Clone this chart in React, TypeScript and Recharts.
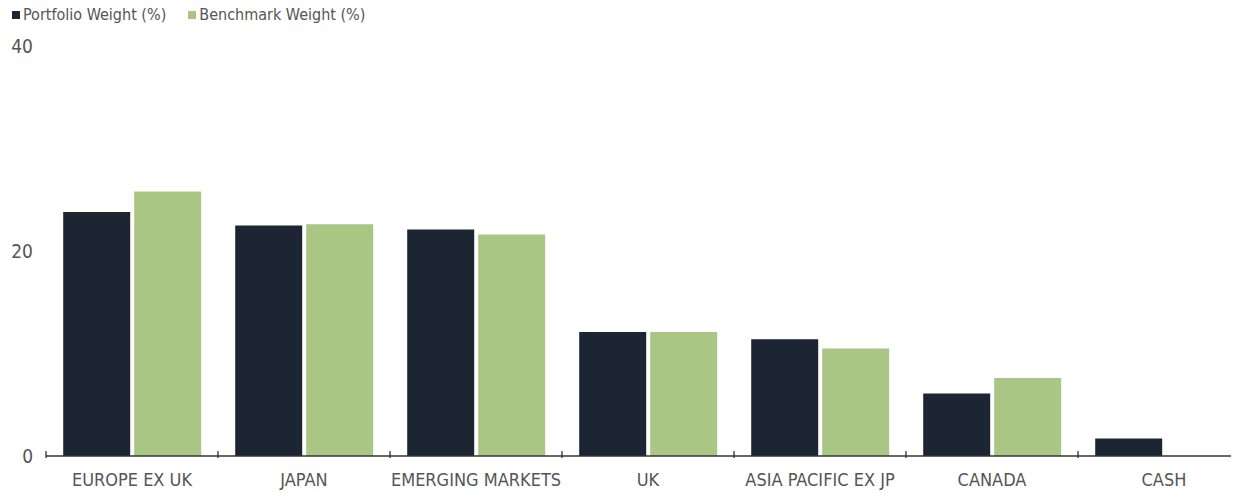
import React from 'react';
import { BarChart, Bar, XAxis, YAxis } from 'recharts';

const categories = ['EUROPE EX UK', 'JAPAN', 'EMERGING MARKETS', 'UK', 'ASIA PACIFIC EX JP', 'CANADA', 'CASH'];
const portfolioWeight = [23.8, 22.5, 22.1, 12.1, 11.4, 6.1, 1.7];
const benchmarkWeight = [25.8, 22.6, 21.6, 12.1, 10.5, 7.6, 0];
const yTicks = [0, 20, 40];

const data = categories.map((c, i) => ({ name: c, portfolio: portfolioWeight[i], benchmark: benchmarkWeight[i] }));

const FONT = '"Liberation Sans Narrow", "DejaVu Sans Condensed", "Liberation Sans", sans-serif';
const DARK = '#1c2632';
const GREEN = '#aac685';
const TEXT = '#555555';

const CHART_W = 1250;
const CHART_H = 492;
const Y_W = 46;
const BAND = (CHART_W - Y_W) / categories.length;

const XTick = (props: any) => {
  const { x, y, payload } = props;
  const bx = x - BAND / 2;
  return (
    <g>
      <line x1={bx} x2={bx} y1={y} y2={y - 7} stroke="#333" strokeWidth={1.3} />
      <text x={x} y={y + 28} textAnchor="middle" fill={TEXT} fontSize={18} fontFamily={FONT}>
        {payload.value}
      </text>
    </g>
  );
};

const LegendRow = () => (
  <div style={{ position: 'absolute', left: 12, top: 5, display: 'flex', alignItems: 'center', fontFamily: FONT, fontSize: 16, color: TEXT }}>
    <span style={{ width: 8, height: 8, background: DARK, display: 'inline-block', marginRight: 3 }} />
    <span style={{ marginRight: 22 }}>Portfolio Weight (%)</span>
    <span style={{ width: 8, height: 8, background: GREEN, display: 'inline-block', marginRight: 3 }} />
    <span>Benchmark Weight (%)</span>
  </div>
);

export default function App() {
  return (
    <div style={{ position: 'relative', width: 1239, height: 492, overflow: 'hidden', margin: '-8px 0 0 -8px', background: '#fff' }}>
      <BarChart width={CHART_W} height={CHART_H} data={data} margin={{ top: 46, right: 0, bottom: 0, left: 0 }} barCategoryGap="10%" barGap={4}>
        <YAxis
          width={Y_W}
          domain={[0, 40]}
          ticks={yTicks}
          axisLine={false}
          tickLine={false}
          tickSize={0}
          tickMargin={13}
          tick={{ fill: TEXT, fontSize: 19, fontFamily: FONT }}
        />
        <XAxis
          dataKey="name"
          height={36}
          axisLine={{ stroke: '#333', strokeWidth: 1.5 }}
          tickLine={false}
          tickSize={0}
          tick={<XTick />}
          interval={0}
        />
        <Bar dataKey="portfolio" fill={DARK} isAnimationActive={false} />
        <Bar dataKey="benchmark" fill={GREEN} isAnimationActive={false} />
      </BarChart>
      <LegendRow />
    </div>
  );
}
